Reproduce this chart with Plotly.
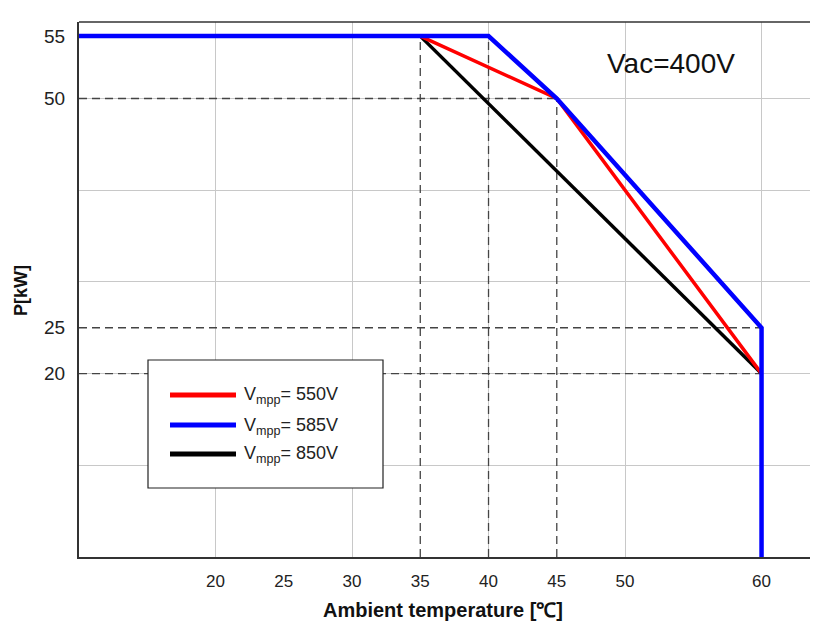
import plotly.graph_objects as go

# ---------------- data ----------------
series_names = ["V<sub>mpp</sub>= 550V", "V<sub>mpp</sub>= 585V", "V<sub>mpp</sub>= 850V"]
series_colors = ["#ff0000", "#0000ff", "#000000"]
series_widths = [3.5, 4.5, 3.5]

temps_550 = [35, 45, 60]
power_550 = [55, 50, 20]
temps_585 = [10, 40, 45, 60, 60]
power_585 = [55, 55, 50, 25, 0]
temps_850 = [35, 60]
power_850 = [55, 20]

# dashed reference lines
ref_h_levels = [50, 25, 20]
ref_h_ends = [45, 60, 60]
ref_v_temps = [35, 40, 45]
ref_v_tops = [55, 55, 50]

x_ticks = [20, 25, 30, 35, 40, 45, 50, 60]
y_ticks = [20, 25, 50, 55]
x_grid = [20, 30, 40, 50, 60]
y_grid = [10, 20, 30, 40, 50]

annotation_text = "Vac=400V"
x_title = "Ambient temperature [℃]"
y_title = "P[kW]"

# ---------------- layout geometry ----------------
OFF = 8  # page body margin
W, H = 819 - OFF, 630 - OFF
PL, PR, PT, PB = 79 - OFF, 810 - OFF, 22 - OFF, 557 - OFF  # plot area in figure pixels
X_MIN, X_MAX = 10, 63.55
Y_MAX = 58.34
STRETCH = 1.36  # schematic axis: the part above 50 kW is drawn stretched


def disp(v):
    """Schematic (non-linear) power axis used by the original diagram."""
    return v if v <= 50 else 50 + (v - 50) * STRETCH


def px(xref):
    return (xref - OFF - PL) / (PR - PL)


def py(yref):
    return (PB - (yref - OFF)) / (PB - PT)


FONT = "Liberation Sans, Arial, sans-serif"

fig = go.Figure()

# dashed reference lines
for lvl, end in zip(ref_h_levels, ref_h_ends):
    fig.add_trace(go.Scatter(x=[X_MIN, end], y=[disp(lvl), disp(lvl)], mode="lines",
                             line=dict(color="#444444", width=1.3, dash="8px,5px"),
                             hoverinfo="skip", showlegend=False))
for t, top in zip(ref_v_temps, ref_v_tops):
    fig.add_trace(go.Scatter(x=[t, t], y=[0, disp(top)], mode="lines",
                             line=dict(color="#444444", width=1.3, dash="8px,5px"),
                             hoverinfo="skip", showlegend=False))

all_x = [temps_550, temps_585, temps_850]
all_y = [power_550, power_585, power_850]
order = [2, 0, 1]  # black, red, then blue on top
for i in order:
    fig.add_trace(go.Scatter(
        x=all_x[i], y=[disp(v) for v in all_y[i]], customdata=all_y[i],
        mode="lines", name=series_names[i],
        line=dict(color=series_colors[i], width=series_widths[i]),
        hovertemplate="%{x} ℃: %{customdata} kW<extra></extra>",
        showlegend=False))

shapes = []
annotations = []

# top border of the frame
shapes.append(dict(type="line", xref="paper", yref="paper", x0=0, x1=1, y0=1, y1=1,
                   line=dict(color="#333333", width=1.5)))

# manual legend box
shapes.append(dict(type="rect", xref="paper", yref="paper",
                   x0=px(148), x1=px(383), y0=py(488), y1=py(360),
                   line=dict(color="#222222", width=1.2), fillcolor="white", layer="above"))
row_y = [395, 425, 454]
for i in range(3):
    shapes.append(dict(type="line", xref="paper", yref="paper",
                       x0=px(170), x1=px(236), y0=py(row_y[i]), y1=py(row_y[i]),
                       line=dict(color=series_colors[i], width=5), layer="above"))
    annotations.append(dict(xref="paper", yref="paper", x=px(242), y=py(row_y[i] + 1),
                            text=series_names[i], showarrow=False, xanchor="left",
                            yanchor="middle", font=dict(family=FONT, size=18, color="#222222")))

annotations.append(dict(xref="paper", yref="paper", x=px(605), y=py(63), text=annotation_text,
                        showarrow=False, xanchor="left", yanchor="middle",
                        font=dict(family=FONT, size=28, color="#111111")))
annotations.append(dict(xref="paper", yref="paper", x=px(443), y=py(610), text="<b>" + x_title + "</b>",
                        showarrow=False, xanchor="center", yanchor="middle",
                        font=dict(family=FONT, size=20, color="#111111")))
annotations.append(dict(xref="paper", yref="paper", x=px(21), y=py(291), text="<b>" + y_title + "</b>",
                        showarrow=False, xanchor="center", yanchor="middle", textangle=-90,
                        font=dict(family=FONT, size=18, color="#111111")))

fig.update_layout(
    width=W, height=H,
    margin=dict(l=PL, r=W - PR, t=PT, b=H - PB),
    plot_bgcolor="white", paper_bgcolor="white",
    showlegend=False,
    shapes=shapes, annotations=annotations,
    xaxis=dict(range=[X_MIN, X_MAX], tickmode="array", tickvals=x_ticks,
               ticktext=[str(t) for t in x_ticks], showgrid=False, zeroline=False,
               showline=True, linecolor="#333333", linewidth=2, ticks="",
               ticklabelstandoff=8,
               tickfont=dict(family=FONT, size=17, color="#222222"),
               minor=dict(tickmode="array", tickvals=x_grid, showgrid=True,
                          gridcolor="#c8c8c8", gridwidth=1, ticks="")),
    yaxis=dict(range=[0, Y_MAX], tickmode="array", tickvals=[disp(t) for t in y_ticks],
               ticktext=[str(t) for t in y_ticks], showgrid=False, zeroline=False,
               showline=True, linecolor="#333333", linewidth=2, ticks="",
               ticklabelstandoff=8,
               tickfont=dict(family=FONT, size=19, color="#222222"),
               minor=dict(tickmode="array", tickvals=y_grid, showgrid=True,
                          gridcolor="#c8c8c8", gridwidth=1, ticks="")),
)

fig.write_html("out.html")
